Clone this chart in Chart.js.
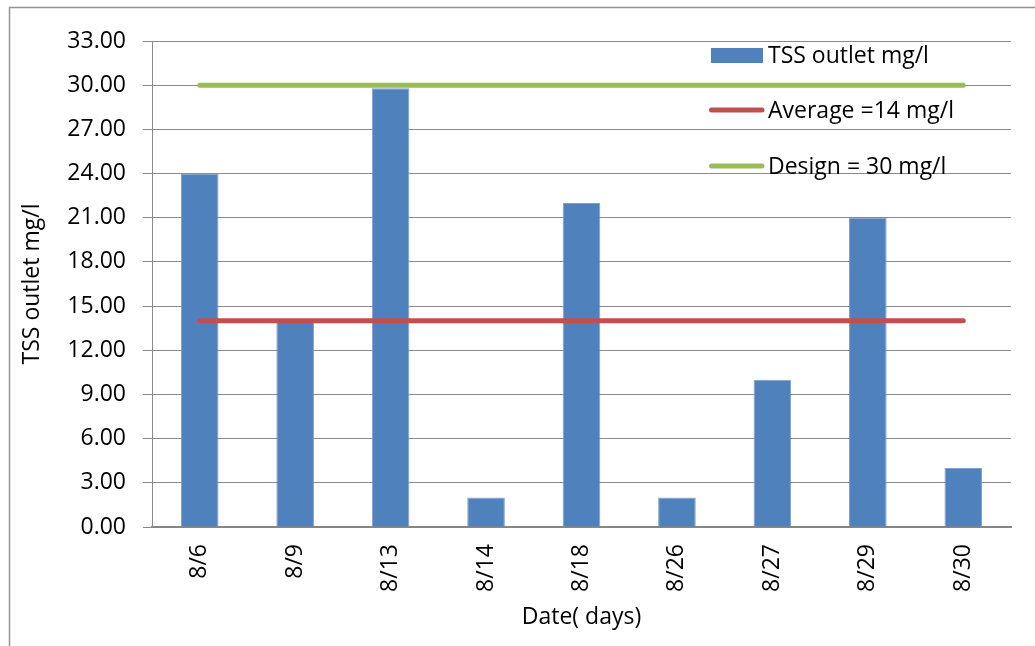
<!DOCTYPE html>
<html>
<head>
<meta charset="utf-8">
<title>TSS outlet</title>
<script src="https://cdn.jsdelivr.net/npm/chart.js@4/dist/chart.umd.min.js"></script>
<style>
  html, body { margin: 0; padding: 0; background: #ffffff; }
  #wrap { position: relative; width: 1035px; height: 646px; }
  canvas { display: block; }
</style>
</head>
<body>
<div id="wrap"><canvas id="chart" width="1035" height="646"></canvas></div>
<script>
// Sampling dates and measured outlet TSS (mg/l)
const dates = ['8/6', '8/9', '8/13', '8/14', '8/18', '8/26', '8/27', '8/29', '8/30'];
const tssOutlet = [24, 14, 29.8, 2, 22, 2, 10, 21, 4];
// Reference levels across the sampling period
const averageLevel = [14, 14, 14, 14, 14, 14, 14, 14, 14];
const designLevel = [30, 30, 30, 30, 30, 30, 30, 30, 30];
// Value axis ticks
const yTickValues = [0, 3, 6, 9, 12, 15, 18, 21, 24, 27, 30, 33];

const seriesNames = ['TSS outlet mg/l', 'Average =14 mg/l', 'Design = 30 mg/l'];
const FONT = '"Open Sans", "DejaVu Sans", sans-serif';
const GRID = '#8a8a8a';

// Outer frame lines (top and left edges)
const framePlugin = {
  id: 'frame',
  beforeDraw(chart) {
    const ctx = chart.ctx;
    ctx.save();
    ctx.strokeStyle = '#939393';
    ctx.lineWidth = 1.5;
    ctx.beginPath();
    ctx.moveTo(9.5, 646);
    ctx.lineTo(9.5, 7.5);
    ctx.lineTo(1035, 7.5);
    ctx.stroke();
    ctx.restore();
  }
};

// Stacked legend in the upper right of the plot
const legendPlugin = {
  id: 'stackLegend',
  afterDatasetsDraw(chart) {
    const ctx = chart.ctx;
    const swatchX = 711, swatchW = 52, textX = 768;
    const rowCenters = [55.5, 110, 166];
    ctx.save();
    ctx.font = '23px ' + FONT;
    ctx.textBaseline = 'alphabetic';
    ctx.textAlign = 'left';
    chart.data.datasets.forEach((ds, i) => {
      const cy = rowCenters[i];
      if (ds.type === 'line') {
        ctx.strokeStyle = ds.borderColor;
        ctx.lineWidth = ds.borderWidth;
        ctx.lineCap = 'round';
        ctx.beginPath();
        ctx.moveTo(swatchX + 0.5, cy);
        ctx.lineTo(swatchX + swatchW - 1, cy);
        ctx.stroke();
      } else {
        ctx.fillStyle = ds.backgroundColor;
        ctx.fillRect(swatchX, cy - 7.5, swatchW, 15);
      }
      ctx.fillStyle = '#000000';
      ctx.fillText(ds.label, textX, cy + 7.5);
    });
    ctx.restore();
  }
};

new Chart(document.getElementById('chart'), {
  data: {
    labels: dates,
    datasets: [
      {
        type: 'bar',
        label: seriesNames[0],
        data: tssOutlet,
        backgroundColor: '#4F81BD',
        borderColor: '#7f9fcc',
        borderWidth: 1,
        barPercentage: 0.394,
        categoryPercentage: 1,
        order: 2
      },
      {
        type: 'line',
        label: seriesNames[1],
        data: averageLevel,
        borderColor: '#C0504D',
        borderWidth: 5,
        borderCapStyle: 'round',
        pointRadius: 0,
        fill: false,
        tension: 0,
        order: 1
      },
      {
        type: 'line',
        label: seriesNames[2],
        data: designLevel,
        borderColor: '#9BBB59',
        borderWidth: 5,
        borderCapStyle: 'round',
        pointRadius: 0,
        fill: false,
        tension: 0,
        order: 0
      }
    ]
  },
  options: {
    responsive: false,
    animation: false,
    devicePixelRatio: 1,
    layout: { padding: { left: 10, top: 41, right: 24, bottom: 0 } },
    plugins: {
      legend: { display: false },
      tooltip: { enabled: false }
    },
    scales: {
      x: {
        grid: { display: false, drawTicks: false },
        border: { display: true, color: '#868686', width: 2 },
        ticks: {
          color: '#000000',
          font: { family: FONT, size: 23 },
          minRotation: 90,
          maxRotation: 90,
          padding: 17,
          autoSkip: false
        },
        title: {
          display: true,
          text: 'Date( days)',
          color: '#000000',
          font: { family: FONT, size: 23 },
          padding: { top: 0, bottom: 15 }
        },
        afterFit(scale) { scale.height = 119; }
      },
      y: {
        min: 0,
        max: 33,
        afterBuildTicks(scale) {
          scale.ticks = yTickValues.map(v => ({ value: v }));
        },
        grid: { color: GRID, lineWidth: 1, drawTicks: true, tickLength: 9 },
        border: { display: true, color: GRID, width: 1 },
        ticks: {
          color: '#000000',
          font: { family: FONT, size: 23 },
          padding: 17,
          callback: v => Number(v).toFixed(2)
        },
        title: {
          display: true,
          text: 'TSS outlet mg/l',
          color: '#000000',
          font: { family: FONT, size: 23 },
          padding: { top: 9, bottom: 0 }
        },
        afterFit(scale) { scale.width = 142; }
      }
    }
  },
  plugins: [framePlugin, legendPlugin]
});
</script>
</body>
</html>
